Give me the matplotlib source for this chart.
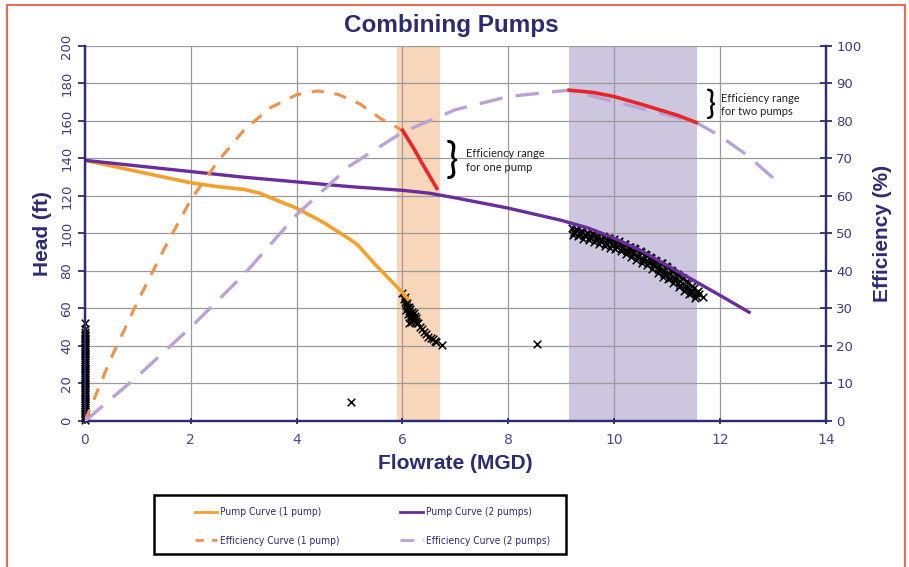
import matplotlib
matplotlib.use("Agg")
import matplotlib.pyplot as plt
from matplotlib.patches import Rectangle
from matplotlib.lines import Line2D
from matplotlib.font_manager import FontProperties

# pump curves (flow MGD, head ft)
pump1_q = [0, 0.5, 1, 1.5, 2, 2.5, 3, 3.3, 3.6, 4, 4.5, 5.0, 5.15, 5.5, 6.0, 6.1]
pump1_h = [139, 136, 133, 130, 127, 125, 123.5, 121.5, 118, 113.5, 106, 97, 94, 83, 68.5, 65]
pump2_q = [0, 1, 2, 3, 4, 5, 6, 6.5, 7, 8, 9, 9.5, 10, 10.5, 11, 11.5, 12, 12.55]
pump2_h = [139, 136, 133, 130, 127.5, 125, 123, 121.5, 119, 113.5, 107, 103, 97.5, 91, 83, 75, 67, 58]

# efficiency curves (flow MGD, %)
eff1_q = [0, 0.5, 1, 1.5, 2, 2.5, 3, 3.5, 4, 4.4, 4.8, 5.2, 5.6, 6.0]
eff1_e = [0, 17, 32, 46, 59, 69, 77.5, 83.5, 87, 88, 87, 84.5, 80.5, 77.5]
eff2_q = [0, 1, 2, 3, 4, 5, 6, 7, 8, 9, 9.15, 11.55, 12, 12.5, 13.07]
eff2_e = [0, 12, 25, 39, 55, 68, 77, 83, 86.5, 88, 88.2, 79.6, 76, 71, 64]

# highlighted efficiency ranges
range1_q = [6.0, 6.2, 6.4, 6.65]
range1_e = [77.5, 73, 68, 62]
range2_q = [9.15, 9.6, 10.0, 10.5, 10.85, 11.2, 11.55]
range2_e = [88.2, 87.6, 86.5, 84.5, 83, 81.5, 79.6]

# operating ranges (shaded)
span1 = (5.9, 6.7)
span2 = (9.15, 11.57)

# observed operating points
zero_q = [0] * 50
zero_h = [0.5, 1.5, 2.5, 3.5, 4.5, 5.5, 6.5, 7.5, 8.5, 9.5, 10.5, 11.5, 12.5, 13.5, 14.5, 15.5,
          16.5, 17.5, 18.5, 19.5, 20.5, 21.5, 22.5, 23.5, 24.5, 25.5, 26.5, 27.5, 28.5, 29.5,
          30.5, 31.5, 32.5, 33.5, 34.5, 35.5, 36.5, 37.5, 38.5, 39.5, 40.5, 41.5, 42.5, 43.5,
          44.5, 45.5, 46.5, 47.5, 49, 52]
one_q = [6.0, 6.02, 6.04, 6.06, 6.08, 6.1, 6.12, 6.14, 6.16, 6.18, 6.2, 6.22, 6.25, 6.28, 6.3,
         6.07, 6.11, 6.15, 6.19, 6.23, 6.13, 6.17, 6.09, 6.26, 6.05, 6.14, 6.21, 6.12, 6.18,
         6.33, 6.37, 6.41, 6.45, 6.49, 6.53, 6.57, 6.61, 6.64, 6.75, 5.02, 8.55]
one_h = [68, 65, 63.5, 62, 61, 60, 58.5, 57.5, 56.5, 56, 55, 54.5, 53.5, 52.5, 52,
         59, 57, 59.5, 54, 56, 61, 53, 63, 55, 66, 55, 57.5, 52.5, 58,
         50, 49, 47.5, 46.5, 45, 44, 43.5, 42.5, 42, 40.5, 10, 41]
two_q = [9.2, 9.25, 9.3, 9.35, 9.4, 9.45, 9.5, 9.55, 9.6, 9.65, 9.7, 9.75, 9.8, 9.85, 9.9,
         9.95, 10.0, 10.05, 10.1, 10.15, 10.2, 10.25, 10.3, 10.35, 10.4, 10.45, 10.5, 10.55,
         10.6, 10.65, 10.7, 10.75, 10.8, 10.85, 10.9, 10.95, 11.0, 11.05, 11.1, 11.15, 11.2,
         11.25, 11.3, 11.35, 11.4, 11.45, 11.5, 11.55, 11.6, 11.68,
         9.22, 9.32, 9.42, 9.52, 9.62, 9.72, 9.82, 9.92, 10.02, 10.12, 10.22, 10.32, 10.42,
         10.52, 10.62, 10.72, 10.82, 10.92, 11.02, 11.12, 11.22, 11.32, 11.42, 11.52,
         9.28, 9.38, 9.48, 9.58, 9.68, 9.78, 9.88, 9.98, 10.08, 10.18, 10.28, 10.38, 10.48,
         10.58, 10.68, 10.78, 10.88, 10.98, 11.08, 11.18, 11.28, 11.38, 11.48, 11.58,
         9.25, 9.35, 9.45, 9.55, 9.65, 9.75, 9.85, 9.95, 10.05, 10.15, 10.25, 10.35, 10.45,
         10.55, 10.65, 10.75, 10.85, 10.95, 11.05, 11.15, 11.25, 11.35, 11.45, 11.55]
two_h = [103, 100.5, 102, 99.5, 101.5, 99, 100.5, 98, 99.5, 97, 98.5, 96, 98, 95, 97.5,
         94.5, 97, 93.5, 96, 92.5, 94.5, 91, 93, 89.5, 91.5, 88, 90, 86.5, 88.5, 85, 87, 83.5,
         85.5, 82, 84, 80, 82, 78.5, 80, 76.5, 78, 74.5, 76, 72, 73.5, 70, 71, 68, 67.5, 66,
         99, 98.5, 97, 96.5, 95.5, 94.5, 93.5, 92.5, 91.5, 90.5, 89, 87.5, 86, 84.5, 83, 81,
         79, 77, 75.5, 73.5, 71.5, 69.5, 67.5, 65.5,
         102.5, 101.5, 100.5, 100, 99, 98.5, 97.5, 96.5, 95.5, 94.5, 93, 92, 90.5, 89, 87.5,
         86, 84, 82.5, 80.5, 78.5, 76.5, 74.5, 72, 69.5,
         101, 100, 99, 98, 97, 96, 95, 94, 93, 92, 90.5, 89, 87.5, 86, 84.5, 82.5,
         80.5, 78.5, 76.5, 74.5, 72.5, 70.5, 68.5, 66.5]

navy = "#2d2b72"
tick_col = "#3d3b80"
c_pump1 = "#f4a02c"
c_eff1 = "#f0914a"
c_pump2 = "#6b2c9c"
c_eff2 = "#b9a2d4"
c_red = "#e8262a"

fig = plt.figure(figsize=(9.09, 5.67), dpi=100)
ax = fig.add_axes([0.0935, 0.2575, 0.815, 0.6615])
ax2 = ax.twinx()

ax.axvspan(*span1, color="#f6c9a2", alpha=0.75, lw=0, zorder=0)
ax.axvspan(*span2, color="#c4bcda", alpha=0.85, lw=0, zorder=0)

ax.set_xlim(0, 14)
ax.set_ylim(0, 200)
ax2.set_ylim(0, 100)
ax.set_xticks(range(0, 15, 2))
ax.set_yticks(range(0, 201, 20))
ax2.set_yticks(range(0, 101, 10))
ax.grid(True, color="#9a9a9a", lw=0.9, zorder=1)
ax.set_axisbelow(True)

for a in (ax, ax2):
    a.spines["top"].set_visible(False)
    for s in ("left", "right", "bottom"):
        a.spines[s].set_color(navy)
        a.spines[s].set_linewidth(1.6)

ax.tick_params(axis="y", colors=navy, labelcolor=tick_col, labelsize=9.5, length=5, width=1.3,
               direction="out", labelrotation=90)
for lab in ax.get_yticklabels():
    lab.set_va("center")
ax.tick_params(axis="x", colors=navy, labelcolor="#4a4890", labelsize=10, length=5, width=1.3,
               direction="inout", pad=6)
ax2.tick_params(axis="y", colors=navy, labelcolor=tick_col, labelsize=9.5, length=8, width=1.3,
                direction="inout")

mk = dict(marker="x", s=30, color="black", lw=1.1, zorder=3)
ax.scatter(zero_q, zero_h, clip_on=False, **mk)
ax.scatter(one_q, one_h, **mk)
ax.scatter(two_q, two_h, **mk)

ax.plot(pump1_q, pump1_h, color=c_pump1, lw=2.6, zorder=4)
ax.plot(pump2_q, pump2_h, color=c_pump2, lw=2.4, zorder=4)
ax2.plot(eff1_q, eff1_e, color=c_eff1, lw=2.2, dashes=(4, 3.5), zorder=4)
ax2.plot(eff2_q, eff2_e, color=c_eff2, lw=2.4, dashes=(7, 4), zorder=4)
ax2.plot(range1_q, range1_e, color=c_red, lw=2.6, zorder=5)
ax2.plot(range2_q, range2_e, color=c_red, lw=2.6, zorder=5)

note_font = ["Lato", "DejaVu Sans"]
ax.text(6.93, 139, "}", fontsize=30, family=note_font, color="black",
        ha="center", va="center", zorder=6)
ax.text(7.2, 139, "Efficiency range\nfor one pump", fontsize=8, family=note_font,
        color="#222222", ha="left", va="center", linespacing=1.3, zorder=6)
ax.text(11.83, 168.5, "}", fontsize=24, family=note_font, color="black",
        ha="center", va="center", zorder=6)
ax.text(12.02, 168.5, "Efficiency range\nfor two pumps", fontsize=8, family=note_font,
        color="#222222", ha="left", va="center", linespacing=1.3, zorder=6)

fig.text(0.497, 0.955, "Combining Pumps", fontsize=17.5, fontweight="bold", color=navy,
         family=["Liberation Sans Narrow", "Liberation Sans", "DejaVu Sans"],
         ha="center", va="center")
label_font = ["Liberation Sans", "DejaVu Sans"]
ax.set_ylabel("Head (ft)", fontsize=15, fontweight="bold", color=navy,
              family=label_font, labelpad=6)
ax2.set_ylabel("Efficiency (%)", fontsize=15, fontweight="bold", color=navy,
               family=label_font, labelpad=8)
ax.set_xlabel("Flowrate (MGD)", fontsize=15, fontweight="bold", color=navy,
              family=label_font, labelpad=5)

handles = [
    Line2D([], [], color=c_pump1, lw=2),
    Line2D([], [], color=c_eff1, lw=2, dashes=(3, 3)),
    Line2D([], [], color=c_pump2, lw=2),
    Line2D([], [], color=c_eff2, lw=2, dashes=(5, 3)),
]
labels = ["Pump Curve (1 pump)", "Efficiency Curve (1 pump)",
          "Pump Curve (2 pumps)", "Efficiency Curve (2 pumps)"]
leg_prop = FontProperties(family="DejaVu Sans", stretch="condensed", size=7.3)
leg = fig.legend(handles, labels, ncol=2, loc="center left",
                 bbox_to_anchor=(0.2145, 0.0714, 0.3905, 0.0),
                 mode="expand", frameon=False, handlelength=2.2, handletextpad=0.3,
                 labelspacing=1.8, borderpad=0, borderaxespad=0, prop=leg_prop)
for t in leg.get_texts():
    t.set_color(navy)

# legend frame
fig.patches.append(Rectangle((154 / 909, 13 / 567), 412 / 909, 59 / 567, transform=fig.transFigure,
                             fill=False, edgecolor="black", lw=1.8))
# outer border
fig.patches.append(Rectangle((0.0075, -0.05), 0.988, 1.041, transform=fig.transFigure,
                             fill=False, edgecolor="#e86a55", lw=1.5))

fig.savefig("out.png", dpi=100)
